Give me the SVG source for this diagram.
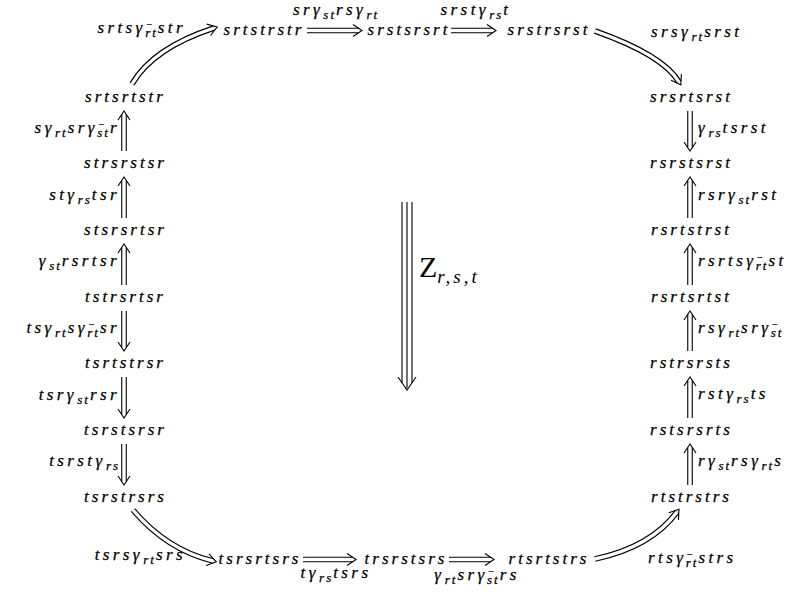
<svg xmlns="http://www.w3.org/2000/svg" width="794" height="592" viewBox="0 0 794 592" font-family="Liberation Serif, DejaVu Serif, serif">
<style>
.t{font-family:"Liberation Serif",serif;font-style:italic;font-size:17px;letter-spacing:3px;fill:#000;stroke:#000;stroke-width:0.25px}
.l{letter-spacing:3.4px}
.s{font-size:13px;letter-spacing:2px}
.m{font-size:10px;letter-spacing:0px;font-style:normal}
.mid{text-anchor:middle}
.end{text-anchor:end}
.ln{stroke:#000;stroke-width:1.1;fill:none}
.hd{stroke:#000;stroke-width:1.1;fill:none;stroke-linejoin:miter}
.co{stroke:#000;stroke-width:5.6;fill:none}
.ci{stroke:#fff;stroke-width:3.4;fill:none}
.z{font-family:"Liberation Serif",serif;font-size:30px;fill:#000}
.zs{font-style:italic;font-size:19px;letter-spacing:3px}
</style>
<rect width="794" height="592" fill="#fff"/>

<g id="connectors">
  <path class="ln" d="M307,28.25H358.6M307,32.75H358.6"/><path class="hd" d="M353,24.5L362,30.5L353,36.5"/>
  <path class="ln" d="M451,28.25H492.6M451,32.75H492.6"/><path class="hd" d="M487,24.5L496,30.5L487,36.5"/>
  <path class="ln" d="M303,557.25H352.6M303,561.75H352.6"/><path class="hd" d="M347,553.5L356,559.5L347,565.5"/>
  <path class="ln" d="M449,557.25H490.6M449,561.75H490.6"/><path class="hd" d="M485,553.5L494,559.5L485,565.5"/>
  <path class="ln" d="M121.75,114.4V151M126.25,114.4V151"/><path class="hd" d="M118,120L124,111L130,120"/>
  <path class="ln" d="M121.75,180.4V218M126.25,180.4V218"/><path class="hd" d="M118,186L124,177L130,186"/>
  <path class="ln" d="M121.75,247.4V285M126.25,247.4V285"/><path class="hd" d="M118,253L124,244L130,253"/>
  <path class="ln" d="M121.75,311V347.6M126.25,311V347.6"/><path class="hd" d="M118,342L124,351L130,342"/>
  <path class="ln" d="M121.75,377V414.6M126.25,377V414.6"/><path class="hd" d="M118,409L124,418L130,409"/>
  <path class="ln" d="M121.75,444V481.6M126.25,444V481.6"/><path class="hd" d="M118,476L124,485L130,476"/>
  <path class="ln" d="M687.75,111V147.6M692.25,111V147.6"/><path class="hd" d="M684,142L690,151L696,142"/>
  <path class="ln" d="M687.75,180.4V218M692.25,180.4V218"/><path class="hd" d="M684,186L690,177L696,186"/>
  <path class="ln" d="M687.75,247.4V285M692.25,247.4V285"/><path class="hd" d="M684,253L690,244L696,253"/>
  <path class="ln" d="M687.75,314.4V351M692.25,314.4V351"/><path class="hd" d="M684,320L690,311L696,320"/>
  <path class="ln" d="M687.75,380.4V418M692.25,380.4V418"/><path class="hd" d="M684,386L690,377L696,386"/>
  <path class="ln" d="M687.75,447.4V485M692.25,447.4V485"/><path class="hd" d="M684,453L690,444L696,453"/>
  <path class="co" d="M132,84Q153,48 214,28"/><path class="ci" d="M132,84Q153,48 214,28"/>
  <path class="hd" transform="translate(217.2,27) rotate(-18.2)" d="M-9,-6L0,0L-9,6"/>
  <path class="co" d="M595,31Q663,55 679,82"/><path class="ci" d="M595,31Q663,55 679,82"/>
  <path class="hd" transform="translate(680.8,84.9) rotate(59.3)" d="M-9,-6L0,0L-9,6"/>
  <path class="co" d="M133,510Q167,550 213,561"/><path class="ci" d="M133,510Q167,550 213,561"/>
  <path class="hd" transform="translate(216.3,561.8) rotate(13.4)" d="M-9,-6L0,0L-9,6"/>
  <path class="co" d="M595,559Q651,547 677,512"/><path class="ci" d="M595,559Q651,547 677,512"/>
  <path class="hd" transform="translate(679,509.2) rotate(-53.4)" d="M-9,-6L0,0L-9,6"/>
  <path class="ln" d="M402,202V383M407,202V388M412,202V383"/><path class="hd" d="M398,377L407,390L416,377"/>
</g>

<g id="nodes" font-family="Liberation Serif">
  <g id="n-top1"><text class="t mid" x="264" y="35">srtstrstr</text></g>
  <g id="n-top2"><text class="t mid" x="409" y="35">srstsrsrt</text></g>
  <g id="n-top3"><text class="t mid" x="549" y="35">srstrsrst</text></g>
  <g id="n-bot1"><text class="t mid" x="260" y="564">tsrsrtsrs</text></g>
  <g id="n-bot2"><text class="t mid" x="406" y="564">trsrstsrs</text></g>
  <g id="n-bot3"><text class="t mid" x="549" y="564">rtsrtstrs</text></g>
  <g id="n-l1"><text class="t mid" x="125.5" y="102">srtsrtstr</text></g>
  <g id="n-l2"><text class="t mid" x="125.5" y="168">strsrstsr</text></g>
  <g id="n-l3"><text class="t mid" x="125.5" y="235">stsrsrtsr</text></g>
  <g id="n-l4"><text class="t mid" x="125.5" y="302">tstrsrtsr</text></g>
  <g id="n-l5"><text class="t mid" x="125.5" y="368">tsrtstrsr</text></g>
  <g id="n-l6"><text class="t mid" x="125.5" y="435">tsrstsrsr</text></g>
  <g id="n-l7"><text class="t mid" x="125.5" y="502">tsrstrsrs</text></g>
  <g id="n-r1"><text class="t mid" x="691.5" y="102">srsrtsrst</text></g>
  <g id="n-r2"><text class="t mid" x="691.5" y="168">rsrstsrst</text></g>
  <g id="n-r3"><text class="t mid" x="691.5" y="235">rsrtstrst</text></g>
  <g id="n-r4"><text class="t mid" x="691.5" y="302">rsrtsrtst</text></g>
  <g id="n-r5"><text class="t mid" x="691.5" y="368">rstrsrsts</text></g>
  <g id="n-r6"><text class="t mid" x="691.5" y="435">rstsrsrts</text></g>
  <g id="n-r7"><text class="t mid" x="691.5" y="502">rtstrstrs</text></g>
</g>

<g id="labels" font-family="Liberation Serif">
  <text class="t l mid" x="336" y="15">srγ<tspan class="s" dx="0.3" dy="4">st</tspan><tspan dy="-4">rsγ</tspan><tspan class="s" dx="0.3" dy="4">rt</tspan></text>
  <text class="t l mid" x="476" y="15">srstγ<tspan class="s" dx="0.3" dy="4">rs</tspan><tspan dy="-4">t</tspan></text>
  <text class="t l mid" x="336" y="578">tγ<tspan class="s" dx="0.3" dy="4">rs</tspan><tspan dy="-4">tsrs</tspan></text>
  <text class="t l mid" x="477" y="580">γ<tspan class="s" dx="0.3" dy="4">rt</tspan><tspan dy="-4">srγ</tspan><tspan class="m" dx="0.8" dy="-5">−</tspan><tspan class="s" dx="-7" dy="9">st</tspan><tspan dy="-4">rs</tspan></text>
  <text class="t l end" x="186" y="33">srtsγ<tspan class="m" dx="0.8" dy="-5">−</tspan><tspan class="s" dx="-7" dy="9">rt</tspan><tspan dy="-4">str</tspan></text>
  <text class="t l" x="651" y="37">srsγ<tspan class="s" dx="0.3" dy="4">rt</tspan><tspan dy="-4">srst</tspan></text>
  <text class="t l end" x="186" y="560">tsrsγ<tspan class="s" dx="0.3" dy="4">rt</tspan><tspan dy="-4">srs</tspan></text>
  <text class="t l" x="648" y="563">rtsγ<tspan class="m" dx="0.8" dy="-5">−</tspan><tspan class="s" dx="-7" dy="9">rt</tspan><tspan dy="-4">strs</tspan></text>
  <text class="t l end" x="120" y="133">sγ<tspan class="s" dx="0.3" dy="4">rt</tspan><tspan dy="-4">srγ</tspan><tspan class="m" dx="0.8" dy="-5">−</tspan><tspan class="s" dx="-7" dy="9">st</tspan><tspan dy="-4">r</tspan></text>
  <text class="t l end" x="120" y="200">stγ<tspan class="s" dx="0.3" dy="4">rs</tspan><tspan dy="-4">tsr</tspan></text>
  <text class="t l end" x="120" y="266">γ<tspan class="s" dx="0.3" dy="4">st</tspan><tspan dy="-4">rsrtsr</tspan></text>
  <text class="t l end" x="120" y="333">tsγ<tspan class="s" dx="0.3" dy="4">rt</tspan><tspan dy="-4">sγ</tspan><tspan class="m" dx="0.8" dy="-5">−</tspan><tspan class="s" dx="-7" dy="9">rt</tspan><tspan dy="-4">sr</tspan></text>
  <text class="t l end" x="120" y="400">tsrγ<tspan class="s" dx="0.3" dy="4">st</tspan><tspan dy="-4">rsr</tspan></text>
  <text class="t l end" x="120" y="466">tsrstγ<tspan class="s" dx="0.3" dy="4">rs</tspan></text>
  <text class="t l" x="698" y="133">γ<tspan class="s" dx="0.3" dy="4">rs</tspan><tspan dy="-4">tsrst</tspan></text>
  <text class="t l" x="698" y="200">rsrγ<tspan class="s" dx="0.3" dy="4">st</tspan><tspan dy="-4">rst</tspan></text>
  <text class="t l" x="698" y="266">rsrtsγ<tspan class="m" dx="0.8" dy="-5">−</tspan><tspan class="s" dx="-7" dy="9">rt</tspan><tspan dy="-4">st</tspan></text>
  <text class="t l" x="698" y="333">rsγ<tspan class="s" dx="0.3" dy="4">rt</tspan><tspan dy="-4">srγ</tspan><tspan class="m" dx="0.8" dy="-5">−</tspan><tspan class="s" dx="-7" dy="9">st</tspan></text>
  <text class="t l" x="698" y="399">rstγ<tspan class="s" dx="0.3" dy="4">rs</tspan><tspan dy="-4">ts</tspan></text>
  <text class="t l" x="698" y="466">rγ<tspan class="s" dx="0.3" dy="4">st</tspan><tspan dy="-4">rsγ</tspan><tspan class="s" dx="0.3" dy="4">rt</tspan><tspan dy="-4">s</tspan></text>
  <text class="z" x="419" y="277">Z<tspan class="zs" dy="6">r,s,t</tspan></text>
</g>
</svg>
